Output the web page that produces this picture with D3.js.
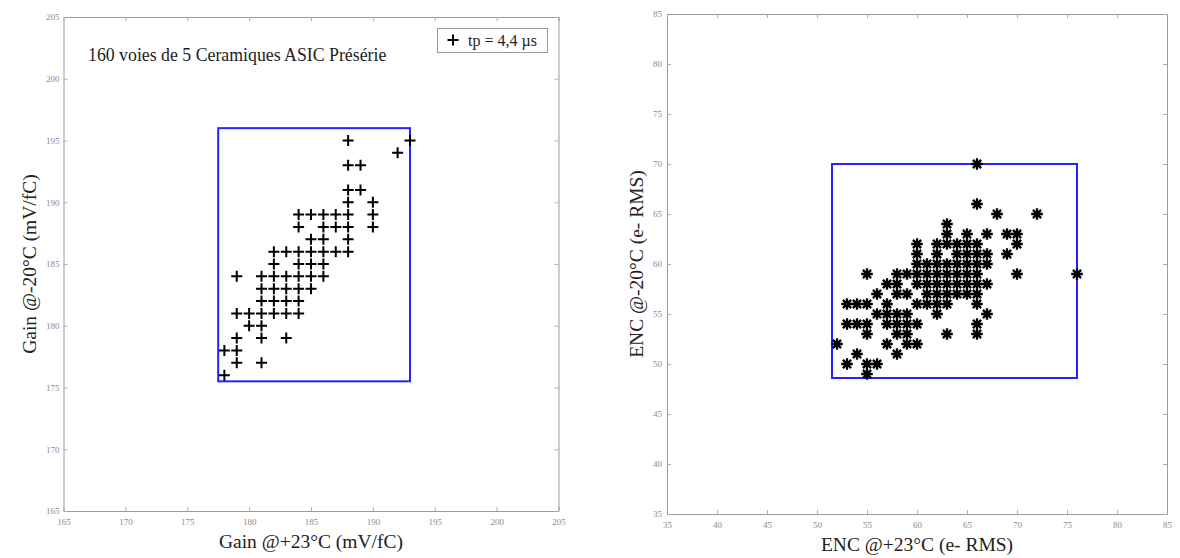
<!DOCTYPE html>
<html>
<head>
<meta charset="utf-8">
<script src="https://cdn.jsdelivr.net/npm/d3@7"></script>
<style>
  html, body { margin: 0; padding: 0; background: #fff; }
  svg { display: block; }
</style>
</head>
<body>
<svg id="chart" width="1180" height="558"></svg>
<script>
// ---- Data ----
// Left panel: gain at +23°C (x) vs gain at -20°C (y), mV/fC
const gainTicks = [165, 170, 175, 180, 185, 190, 195, 200, 205];
const gainAt23 = [188,193,192,188,189,188,189,188,190,
  184,185,186,187,188,190,
  184,186,187,188,190,
  185,186,188,
  182,183,184,185,186,187,188,
  182,184,185,186,
  179,181,182,183,184,185,186,
  181,182,183,184,185,
  181,182,183,184,
  179,180,181,182,183,184,
  180,181,
  179,181,183,
  178,179,
  179,181,
  178];
const gainAtM20 = [195,195,194,193,193,191,191,190,190,
  189,189,189,189,189,189,
  188,188,188,188,188,
  187,187,187,
  186,186,186,186,186,186,186,
  185,185,185,185,
  184,184,184,184,184,184,184,
  183,183,183,183,183,
  182,182,182,182,
  181,181,181,181,181,181,
  180,180,
  179,179,179,
  178,178,
  177,177,
  176];
const gainBoxX = [177.5, 193];
const gainBoxY = [175.5, 196];
const gainTitle = "160 voies de 5 Ceramiques ASIC Présérie";
const gainLegend = "tp = 4,4 µs";

// Right panel: ENC at +23°C (x) vs ENC at -20°C (y), e- RMS
const encTicks = [35, 40, 45, 50, 55, 60, 65, 70, 75, 80, 85];
const encAt23 = [66,
  66,
  68,72,
  63,
  63,65,67,69,70,
  60,62,63,64,65,66,70,
  60,62,64,65,66,67,69,
  60,61,62,63,64,65,66,67,
  55,58,59,60,61,62,63,64,65,66,70,76,
  57,58,60,61,62,63,64,65,66,67,
  56,58,59,61,62,63,64,65,66,
  53,54,55,57,60,61,62,63,66,
  56,57,58,59,62,67,
  53,54,55,57,58,59,60,66,
  55,58,59,63,66,
  52,57,59,60,
  54,58,
  53,55,56,
  55];
const encAtM20 = [70,
  66,
  65,65,
  64,
  63,63,63,63,63,
  62,62,62,62,62,62,62,
  61,61,61,61,61,61,61,
  60,60,60,60,60,60,60,60,
  59,59,59,59,59,59,59,59,59,59,59,59,
  58,58,58,58,58,58,58,58,58,58,
  57,57,57,57,57,57,57,57,57,
  56,56,56,56,56,56,56,56,56,
  55,55,55,55,55,55,
  54,54,54,54,54,54,54,54,
  53,53,53,53,53,
  52,52,52,52,
  51,51,
  50,50,50,
  49];
const encBoxX = [51.5, 76];
const encBoxY = [48.6, 70];

// ---- Drawing ----
const svg = d3.select("#chart");
const SERIF = "'Liberation Serif', 'Times New Roman', serif";
const BLUE = "#2323ff";

function panel(cfg) {
  const x = d3.scaleLinear().domain(cfg.domain).range([cfg.left, cfg.right]);
  const y = d3.scaleLinear().domain(cfg.domain).range([cfg.bottom, cfg.top]);
  const g = svg.append("g");

  const styleAxis = (sel, labels) => {
    sel.select(".domain").attr("stroke", "#9a9a9a").attr("stroke-width", 1);
    sel.selectAll(".tick line").attr("stroke", "#b0b0b0").attr("stroke-width", 1);
    sel.selectAll(".tick text")
      .attr("fill", "#8a8a8a")
      .style("font-family", SERIF)
      .style("font-size", "9px");
    if (!labels) sel.selectAll(".tick text").remove();
  };

  g.append("g").attr("transform", `translate(0,${cfg.bottom})`)
    .call(d3.axisBottom(x).tickValues(cfg.ticks).tickFormat(d3.format("d"))
      .tickSizeInner(-4).tickSizeOuter(0).tickPadding(8))
    .call(s => styleAxis(s, true));
  g.append("g").attr("transform", `translate(${cfg.left},0)`)
    .call(d3.axisLeft(y).tickValues(cfg.ticks).tickFormat(d3.format("d"))
      .tickSizeInner(-4).tickSizeOuter(0).tickPadding(cfg.yPad))
    .call(s => styleAxis(s, true));
  g.append("g").attr("transform", `translate(0,${cfg.top})`)
    .call(d3.axisTop(x).tickValues(cfg.ticks).tickSizeInner(-4).tickSizeOuter(0))
    .call(s => styleAxis(s, false));
  g.append("g").attr("transform", `translate(${cfg.right},0)`)
    .call(d3.axisRight(y).tickValues(cfg.ticks).tickSizeInner(-4).tickSizeOuter(0))
    .call(s => styleAxis(s, false));

  // blue spec box
  g.append("rect")
    .attr("x", x(cfg.boxX[0])).attr("y", y(cfg.boxY[1]))
    .attr("width", x(cfg.boxX[1]) - x(cfg.boxX[0]))
    .attr("height", y(cfg.boxY[0]) - y(cfg.boxY[1]))
    .attr("fill", "none").attr("stroke", BLUE).attr("stroke-width", 2);

  // markers
  const pts = cfg.xs.map((v, i) => [v, cfg.ys[i]]);
  g.append("g").selectAll("path").data(pts).join("path")
    .attr("transform", d => `translate(${x(d[0])},${y(d[1])})`)
    .attr("d", cfg.marker)
    .attr("fill", "none").attr("stroke", "#000")
    .attr("stroke-width", cfg.markerWidth).attr("stroke-linecap", "butt");

  // axis titles
  g.append("text")
    .attr("x", (cfg.left + cfg.right) / 2).attr("y", cfg.xTitleY)
    .attr("text-anchor", "middle")
    .style("font-family", SERIF).style("font-size", "19.5px").attr("fill", "#222")
    .text(cfg.xTitle);
  g.append("text")
    .attr("transform", `translate(${cfg.yTitleX},${(cfg.top + cfg.bottom) / 2}) rotate(-90)`)
    .attr("text-anchor", "middle")
    .style("font-family", SERIF).style("font-size", "19.5px").attr("fill", "#222")
    .text(cfg.yTitle);
  return { g, x, y };
}

const plus = "M-5.5,0H5.5M0,-5.5V5.5";
const star = (() => {
  const r = 5.8, a = r * Math.SQRT1_2;
  return `M${-r},0H${r}M0,${-r}V${r}M${-a},${-a}L${a},${a}M${-a},${a}L${a},${-a}`;
})();

const left = panel({
  domain: [165, 205], ticks: gainTicks,
  left: 63.5, right: 558.5, top: 17, bottom: 511, yPad: 4,
  boxX: gainBoxX, boxY: gainBoxY,
  xs: gainAt23, ys: gainAtM20, marker: plus, markerWidth: 2,
  xTitle: "Gain @+23°C (mV/fC)", xTitleY: 548,
  yTitle: "Gain @-20°C (mV/fC)", yTitleX: 36
});

// title inside left plot
left.g.append("text")
  .attr("x", 88).attr("y", 61)
  .style("font-family", SERIF).style("font-size", "17.8px").attr("fill", "#222")
  .text(gainTitle);

// legend
const lg = left.g.append("g");
lg.append("rect").attr("x", 437.5).attr("y", 28.5).attr("width", 110).attr("height", 24)
  .attr("fill", "#fff").attr("stroke", "#999").attr("stroke-width", 1);
lg.append("path").attr("d", plus).attr("transform", "translate(453,40)")
  .attr("fill", "none").attr("stroke", "#000").attr("stroke-width", 2);
lg.append("text").attr("x", 468).attr("y", 45.5)
  .style("font-family", SERIF).style("font-size", "16px").attr("fill", "#222")
  .text(gainLegend);

panel({
  domain: [35, 85], ticks: encTicks,
  left: 667, right: 1167, top: 14, bottom: 514, yPad: 5,
  boxX: encBoxX, boxY: encBoxY,
  xs: encAt23, ys: encAtM20, marker: star, markerWidth: 2.3,
  xTitle: "ENC @+23°C (e- RMS)", xTitleY: 551,
  yTitle: "ENC @-20°C (e- RMS)", yTitleX: 643
});
</script>
</body>
</html>
